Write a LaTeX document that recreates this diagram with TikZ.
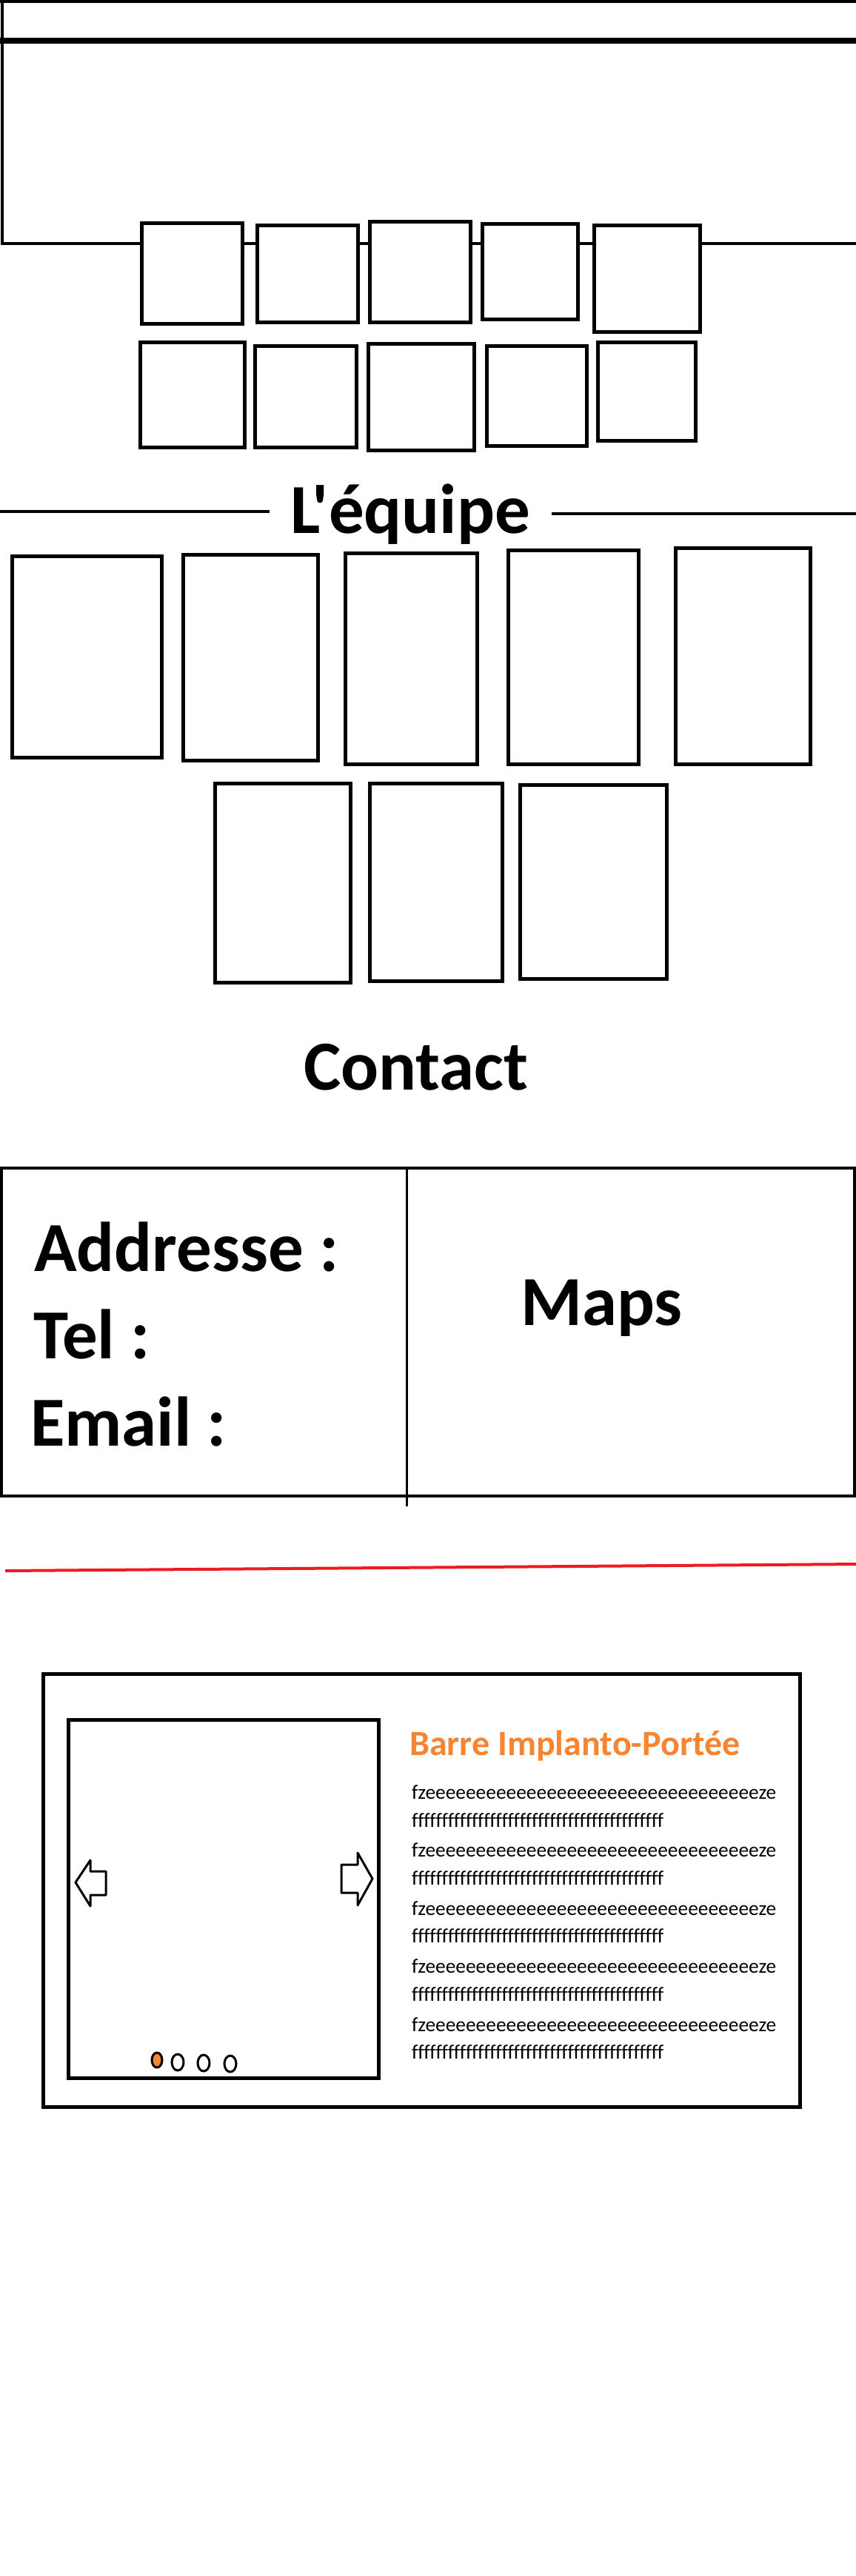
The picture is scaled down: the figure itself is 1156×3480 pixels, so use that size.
\documentclass[tikz,border=0pt]{standalone}
\usepackage{fontspec}
\setmainfont{Carlito}[Ligatures={TeXOff,CommonOff}]
\usepackage{tikz}
\definecolor{redrule}{RGB}{237,28,36}
\definecolor{orangetxt}{RGB}{247,132,48}
\newcommand{\fzeline}{fzeeeeeeeeeeeeeeeeeeeeeeeeeeeeeeeeeze}
\newcommand{\fffline}{ffffffffffffffffffffffffffffffffffffffffff}
\tikzset{
  card/.style={draw=black, line width=5pt, fill=white},
  rule/.style={line width=4pt},
  bigtitle/.style={font=\bfseries\fontsize{95}{95}\selectfont, inner sep=0pt, anchor=base west},
  bodytxt/.style={font=\fontsize{27.4}{30}\selectfont, inner sep=0pt, anchor=base west}
}

\begin{document}
\begin{tikzpicture}[x=1pt,y=-1pt]
\useasboundingbox[fill=white] (0,0) rectangle (1156,3480);

\draw[rule] (0,2) -- (1156,2);
\draw[line width=8pt] (0,55) -- (1156,55);
\draw[rule] (3,0) -- (3,329) -- (1156,329);
\draw[card] (191,301) rectangle (327,437);
\draw[card] (347,304) rectangle (483,435);
\draw[card] (499,299) rectangle (635,435);
\draw[card] (651,302) rectangle (780,431);
\draw[card] (802,304) rectangle (945,448);
\draw[card] (189,462) rectangle (330,604);
\draw[card] (344,467) rectangle (481,604);
\draw[card] (497,464) rectangle (640,608);
\draw[card] (657,467) rectangle (792,602);
\draw[card] (807,462) rectangle (939,595);

\node[bigtitle] (equipe) at (392,720) {L'équipe};
\draw[rule] (0,691) -- (364,691);
\draw[rule] (745,694) -- (1156,694);
\draw[card] (16,751) rectangle (218,1023);
\draw[card] (247,749) rectangle (429,1027);
\draw[card] (466,747) rectangle (644,1032);
\draw[card] (686,743) rectangle (862,1032);
\draw[card] (912,740) rectangle (1094,1032);
\draw[card] (290,1058) rectangle (473,1327);
\draw[card] (499,1058) rectangle (678,1325);
\draw[card] (702,1060) rectangle (900,1322);

\node[bigtitle] (contact) at (410,1472) {Contact};
\draw[rule] (2,1578) rectangle (1154,2021);
\draw[line width=3pt] (549,1578) -- (549,2035);
\node[bigtitle] (adresse) at (46,1717) {Addresse :};
\node[bigtitle] (tel) at (45,1835) {Tel :};
\node[bigtitle] (email) at (41,1953) {Email :};
\node[bigtitle] (maps) at (703,1790) {Maps};

\draw[rule, redrule] (7,2122) -- (1156,2113);

\draw[card] (58,2261) rectangle (1080,2846);
\draw[card] (92,2323) rectangle (511,2807);
\draw[line width=3pt, line join=round] (102,2543) -- (122,2513) -- (122,2528) -- (143,2528) -- (143,2560) -- (122,2560) -- (122,2575) -- cycle;
\draw[line width=3pt, line join=round] (503,2538) -- (483,2503) -- (483,2519) -- (461,2519) -- (461,2557) -- (483,2557) -- (483,2574) -- cycle;
\draw[line width=3pt, fill=orangetxt] (212,2783) ellipse [x radius=7, y radius=10];
\draw[line width=3pt] (240,2786) ellipse [x radius=8, y radius=11];
\draw[line width=3pt] (275,2787) ellipse [x radius=8, y radius=11];
\draw[line width=3pt] (311,2788) ellipse [x radius=8, y radius=11];

\node[bigtitle, font=\bfseries\fontsize{48}{48}\selectfont, text=orangetxt] (produit) at (553,2371) {Barre Implanto-Portée};
\node[bodytxt] (ligne1) at (556,2430) {\fzeline};
\node[bodytxt] (ligne2) at (556,2468) {\fffline};
\node[bodytxt] (ligne3) at (556,2508) {\fzeline};
\node[bodytxt] (ligne4) at (556,2546) {\fffline};
\node[bodytxt] (ligne5) at (556,2587) {\fzeline};
\node[bodytxt] (ligne6) at (556,2624) {\fffline};
\node[bodytxt] (ligne7) at (556,2665) {\fzeline};
\node[bodytxt] (ligne8) at (556,2703) {\fffline};
\node[bodytxt] (ligne9) at (556,2744) {\fzeline};
\node[bodytxt] (ligne10) at (556,2781) {\fffline};
\end{tikzpicture}
\end{document}
